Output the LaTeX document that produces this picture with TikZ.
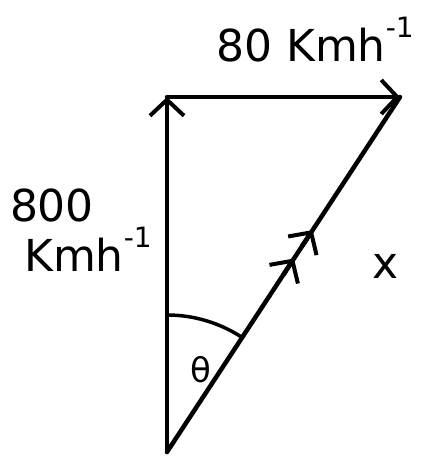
\documentclass[tikz,border=0pt]{standalone}
\usepackage{fontspec}
\setmainfont{DejaVu Sans}
\usetikzlibrary{arrows.meta,calc}
\newcommand{\perh}{h\raisebox{0.55em}{\fontsize{28}{30}\selectfont -1}}
\begin{document}
\begin{tikzpicture}[x=1pt,y=1pt,
  vec/.style={line width=4.5pt,line cap=round},
  barb/.style={-{Straight Barb[length=16pt,width=34pt,line width=4pt]}},
  lbl/.style={font=\fontsize{44}{48}\selectfont,inner sep=0pt}]
\useasboundingbox (0,0) rectangle (428,456);
\coordinate (O) at (167,4);
\coordinate (A) at (167,359);
\coordinate (B) at (400,359);
\draw[vec,barb] (O) -- (A);
\draw[vec,barb] (A) -- (B);
\draw[vec] (O) -- (B);
\draw[vec,barb] ($(O)!0.50!(B)$) -- ($(O)!0.545!(B)$) coordinate (m1);
\draw[vec,barb] ($(O)!0.58!(B)$) -- ($(O)!0.625!(B)$) coordinate (m2);
\draw[line width=3.5pt] (O) ++(90:137) arc[start angle=90,end angle=57,radius=137] coordinate (arcEnd);
\node[lbl] (t80) at (315,416) {80 Km\perh};
\node[lbl] (t800) at (52,251) {800};
\node[lbl] (tkmh) at (88,207) {Km\perh};
\node[lbl,font=\fontsize{34}{38}\selectfont] (theta) at (201,86) {θ};
\node[lbl] (tx) at (386,190) {x};
\end{tikzpicture}
\end{document}
